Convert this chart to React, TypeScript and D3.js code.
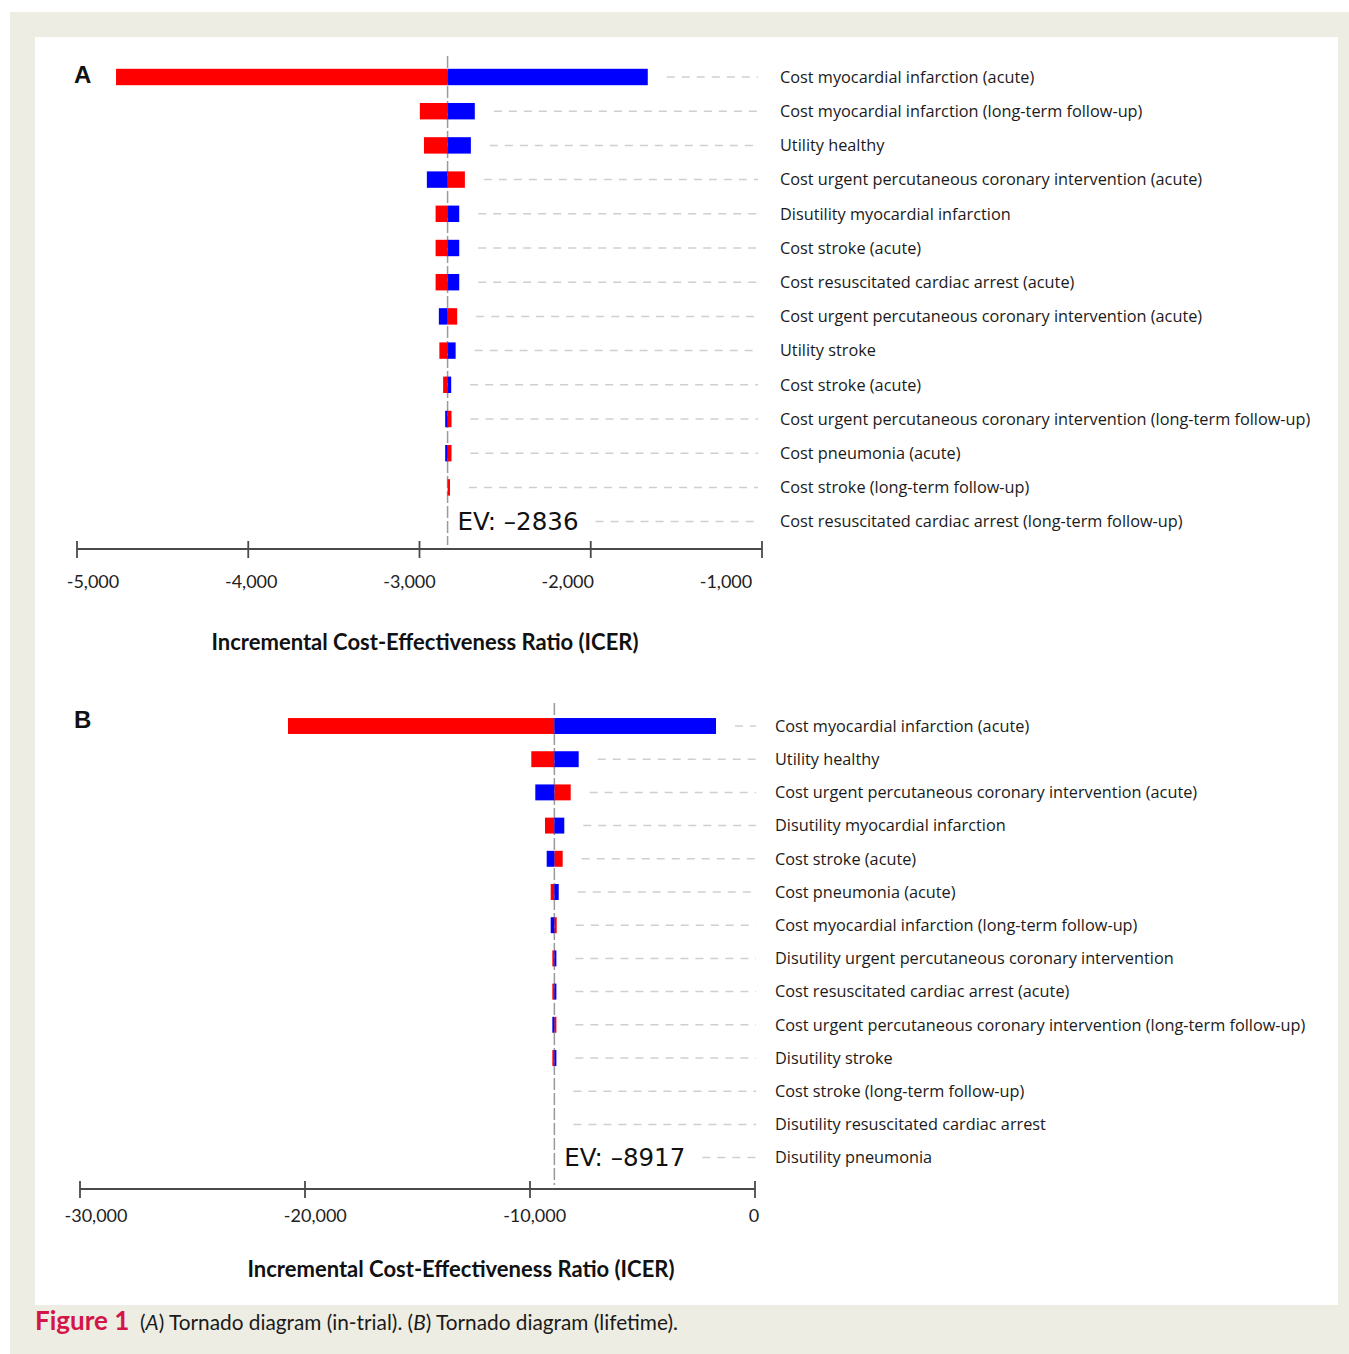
import React from "react";
import * as d3 from "d3";

// ---------- Panel A (in-trial) ----------
const panelALabels = [
  "Cost myocardial infarction (acute)",
  "Cost myocardial infarction (long-term follow-up)",
  "Utility healthy",
  "Cost urgent percutaneous coronary intervention (acute)",
  "Disutility myocardial infarction",
  "Cost stroke (acute)",
  "Cost resuscitated cardiac arrest (acute)",
  "Cost urgent percutaneous coronary intervention (acute)",
  "Utility stroke",
  "Cost stroke (acute)",
  "Cost urgent percutaneous coronary intervention (long-term follow-up)",
  "Cost pneumonia (acute)",
  "Cost stroke (long-term follow-up)",
  "Cost resuscitated cardiac arrest (long-term follow-up)",
];
const panelARed = [-4772, -2998, -2974, -2735, -2906, -2906, -2906, -2780, -2884, -2862, -2813, -2813, -2822, -2836];
const panelABlue = [-1667, -2677, -2700, -2957, -2768, -2768, -2768, -2887, -2789, -2815, -2850, -2850, -2836, -2836];
const panelAEV = -2836;
const panelATicks = [-5000, -4000, -3000, -2000, -1000];

// ---------- Panel B (lifetime) ----------
const panelBLabels = [
  "Cost myocardial infarction (acute)",
  "Utility healthy",
  "Cost urgent percutaneous coronary intervention (acute)",
  "Disutility myocardial infarction",
  "Cost stroke (acute)",
  "Cost pneumonia (acute)",
  "Cost myocardial infarction (long-term follow-up)",
  "Disutility urgent percutaneous coronary intervention",
  "Cost resuscitated cardiac arrest (acute)",
  "Cost urgent percutaneous coronary intervention (long-term follow-up)",
  "Disutility stroke",
  "Cost stroke (long-term follow-up)",
  "Disutility resuscitated cardiac arrest",
  "Disutility pneumonia",
];
const panelBRed = [-20756, -9942, -8191, -9333, -8547, -9080, -8813, -9007, -9007, -8827, -9007, -8917, -8917, -8917];
const panelBBlue = [-1733, -7836, -9764, -8476, -9258, -8724, -9080, -8827, -8827, -9007, -8827, -8917, -8917, -8917];
const panelBEV = -8917;
const panelBTicks = [-30000, -20000, -10000, 0];

const AXIS_TITLE = "Incremental Cost-Effectiveness Ratio (ICER)";
const RED = "#ff0000";
const BLUE = "#0000ff";

type PanelProps = {
  letter: string;
  labels: string[];
  red: number[];
  blue: number[];
  ev: number;
  ticks: number[];
  x0: number;
  x1: number;
  firstRow: number;
  step: number;
  lineTop: number;
  axisY: number;
  labelX: number;
  dashEnd: number;
  tickLabelRange: [number, number];
  tickLabelY: number;
  titleX: number;
  titleY: number;
  letterY: number;
};

function Panel(p: PanelProps) {
  const xs = d3.scaleLinear().domain([p.ticks[0], p.ticks[p.ticks.length - 1]]).range([p.x0, p.x1]);
  const tl = d3.scaleLinear().domain([p.ticks[0], p.ticks[p.ticks.length - 1]]).range(p.tickLabelRange);
  const ys = d3
    .scaleBand<number>()
    .domain(d3.range(p.labels.length))
    .range([p.firstRow - p.step / 2, p.firstRow - p.step / 2 + p.step * p.labels.length])
    .paddingInner(0.52)
    .paddingOuter(0.26);
  const bh = ys.bandwidth();
  const cx = xs(p.ev);
  const fmt = d3.format(",");
  const n = p.labels.length;

  return (
    <g>
      <text x={74} y={p.letterY} fontFamily="Liberation Sans, Arial, sans-serif" fontWeight="bold" fontSize={24} fill="#111">
        {p.letter}
      </text>
      {/* dashed guide lines */}
      {p.labels.map((_, i) => {
        const yc = (ys(i) as number) + bh / 2;
        const end = Math.max(xs(p.red[i]), xs(p.blue[i]), cx);
        const start = i === n - 1 ? cx + 148 : end + 19;
        return (
          <line key={"d" + i} x1={start} x2={p.dashEnd} y1={yc} y2={yc} stroke="#cfcfcf" strokeWidth={1.5} strokeDasharray="8,7" />
        );
      })}
      {/* centre line */}
      <line x1={cx} x2={cx} y1={p.lineTop} y2={p.axisY - 4} stroke="#9a9a9a" strokeWidth={1.5} strokeDasharray="12,3" />
      {/* bars */}
      {p.labels.map((_, i) => {
        const y = ys(i) as number;
        return (
          <g key={"b" + i}>
            {[
              [p.red[i], RED],
              [p.blue[i], BLUE],
            ].map(([v, c], k) => {
              const xv = xs(v as number);
              const w = Math.abs(xv - cx);
              if (w < 0.3) return null;
              return <rect key={k} x={Math.min(xv, cx)} y={y} width={w} height={bh} fill={c as string} />;
            })}
          </g>
        );
      })}
      {/* labels */}
      {p.labels.map((l, i) => (
        <text
          key={"l" + i}
          x={p.labelX}
          y={(ys(i) as number) + bh / 2}
          dy="0.35em"
          fontFamily="Open Sans, sans-serif"
          fontSize={16.3}
          fill="#1a1a1a"
        >
          {l}
        </text>
      ))}
      {/* EV label */}
      <text
        x={cx + 10}
        y={(ys(n - 1) as number) + bh / 2}
        dy="0.36em"
        fontFamily="DejaVu Sans, sans-serif"
        fontSize={24.5}
        fill="#111"
      >
        {"EV: \u2013" + Math.abs(p.ev)}
      </text>
      {/* axis */}
      <line x1={p.x0} x2={p.x1} y1={p.axisY} y2={p.axisY} stroke="#4a4a4a" strokeWidth={2.2} />
      {p.ticks.map((t) => (
        <g key={"t" + t}>
          <line x1={xs(t)} x2={xs(t)} y1={p.axisY - 8} y2={p.axisY + 9} stroke="#4a4a4a" strokeWidth={1.8} />
          <text x={tl(t)} y={p.tickLabelY} textAnchor="middle" fontFamily="Lato, sans-serif" fontSize={18} fill="#222">
            {t < 0 ? "-" + fmt(-t) : fmt(t)}
          </text>
        </g>
      ))}
      <text x={p.titleX} y={p.titleY} textAnchor="middle" fontFamily="Lato, sans-serif" fontWeight="bold" fontSize={22} fill="#111">
        {AXIS_TITLE}
      </text>
    </g>
  );
}

export default function App() {
  return (
    <svg width={1349} height={1354} style={{ position: "absolute", left: 0, top: 0 }}>
      <rect x={0} y={0} width={1349} height={1354} fill="#ffffff" />
      <rect x={10} y={12} width={1339} height={1342} fill="#eeede3" />
      <rect x={35} y={37} width={1303} height={1268} fill="#ffffff" />
      <Panel
        letter="A"
        labels={panelALabels}
        red={panelARed}
        blue={panelABlue}
        ev={panelAEV}
        ticks={panelATicks}
        x0={77}
        x1={762}
        firstRow={77}
        step={34.2}
        lineTop={56}
        axisY={549}
        labelX={780}
        dashEnd={758}
        tickLabelRange={[93, 726]}
        tickLabelY={588}
        titleX={425}
        titleY={650}
        letterY={83}
      />
      <Panel
        letter="B"
        labels={panelBLabels}
        red={panelBRed}
        blue={panelBBlue}
        ev={panelBEV}
        ticks={panelBTicks}
        x0={80}
        x1={755}
        firstRow={726}
        step={33.2}
        lineTop={703}
        axisY={1189}
        labelX={775}
        dashEnd={756}
        tickLabelRange={[96, 754]}
        tickLabelY={1222}
        titleX={461}
        titleY={1277}
        letterY={728}
      />
      <text x={35} y={1330} fontFamily="Lato, sans-serif" fontWeight="bold" fontSize={26} fill="#d3164a">
        Figure 1
      </text>
      <text x={140} y={1330} fontFamily="Lato, sans-serif" fontSize={20.8} fill="#1a1a1a">
        (<tspan fontStyle="italic">A</tspan>) Tornado diagram (in-trial). (<tspan fontStyle="italic">B</tspan>) Tornado diagram (lifetime).
      </text>
    </svg>
  );
}
